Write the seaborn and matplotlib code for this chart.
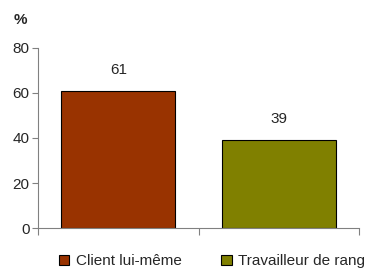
import seaborn as sns
import matplotlib.pyplot as plt
from matplotlib.patches import Patch

# Data
categories = ['Client lui-même', 'Travailleur de rang']
values = [61, 39]
colors = ['#993300', '#808000']

sns.set_style('white')
plt.rcParams['font.family'] = ['Liberation Sans', 'DejaVu Sans']

fig = plt.figure(figsize=(3.77, 2.69), dpi=100)
ax = fig.add_axes([0.1008, 0.1524, 0.8515, 0.6692])

sns.barplot(x=categories, y=values, hue=categories, palette=colors,
            edgecolor='black', linewidth=0.8, width=0.71, legend=False,
            saturation=1, ax=ax)

# value labels above bars
for cont in ax.containers:
    ax.bar_label(cont, padding=10, fontsize=11)

ax.set_ylim(0, 80)
ax.set_yticks([0, 20, 40, 60, 80])
ax.set_xlim(-0.5, 1.5)
ax.set_xticks([-0.5, 0.5, 1.5])
ax.set_xticklabels([])
ax.tick_params(axis='y', labelsize=11, length=4, width=0.8, color='#808080', pad=2, left=True)
ax.tick_params(axis='x', length=5, width=0.8, color='#808080', bottom=True)

for side in ['top', 'right']:
    ax.spines[side].set_visible(False)
for side in ['left', 'bottom']:
    ax.spines[side].set_color('#808080')
    ax.spines[side].set_linewidth(0.8)

fig.text(0.055, 0.925, '%', fontsize=11, fontweight='bold', ha='center', va='center')

handles = [Patch(facecolor=c, edgecolor='black', linewidth=0.8) for c in colors]
fig.legend(handles, categories, loc='center', bbox_to_anchor=(0.562, 0.028),
           ncol=2, frameon=False, fontsize=11, handlelength=0.7, handleheight=0.7,
           handletextpad=0.4, columnspacing=2.6, borderaxespad=0)

fig.savefig('out.png', dpi=100)
